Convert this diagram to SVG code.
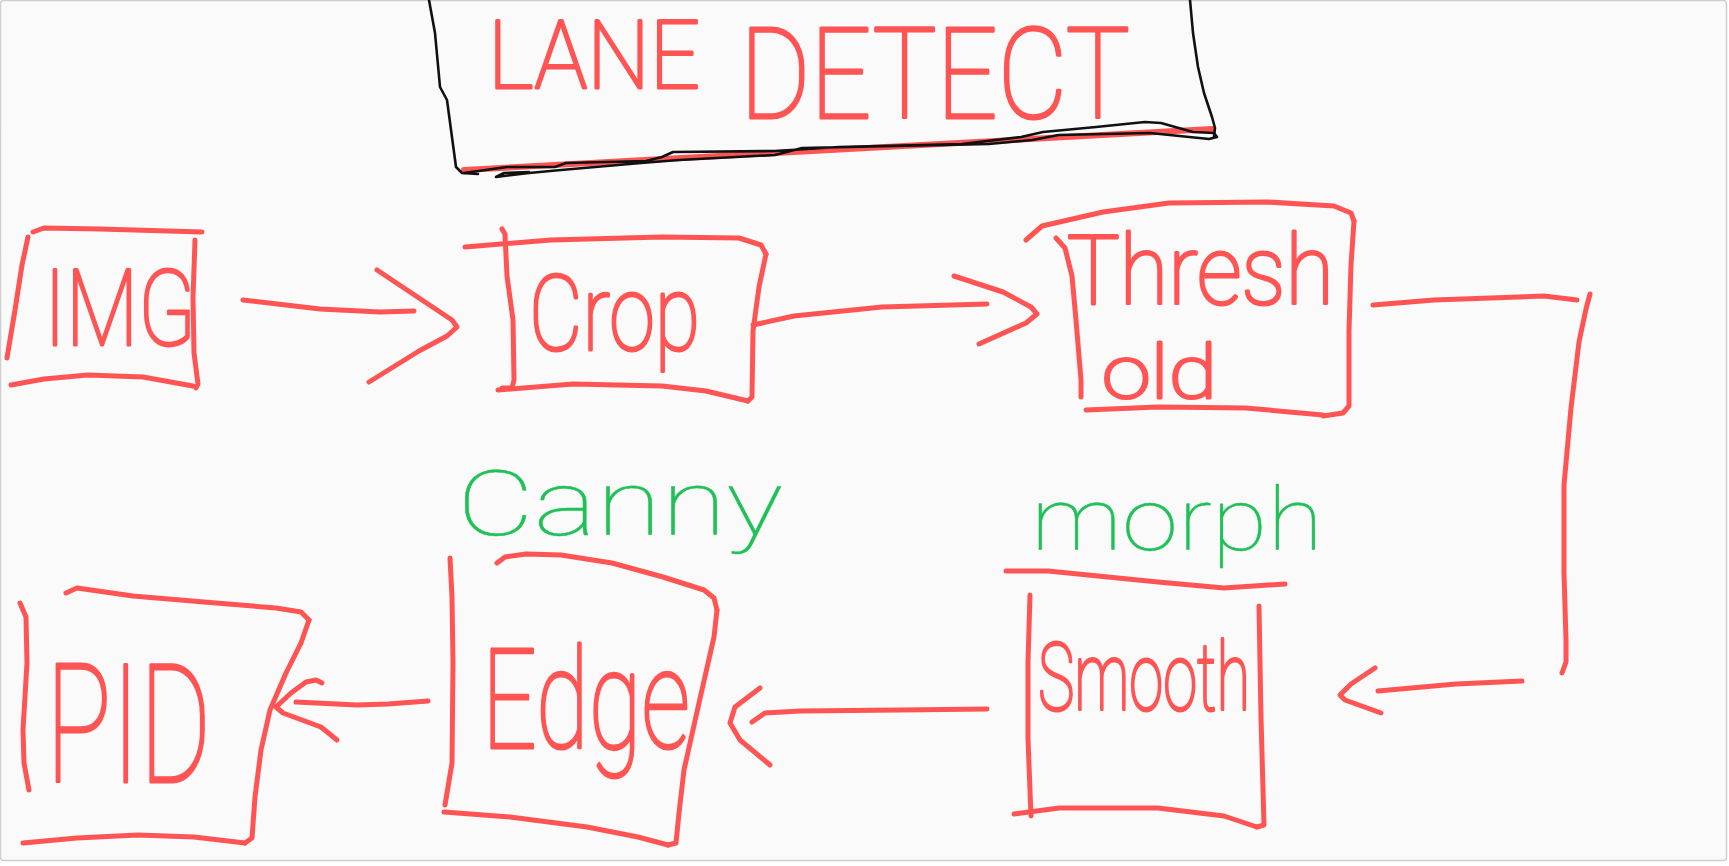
<svg xmlns="http://www.w3.org/2000/svg" width="1729" height="866" viewBox="0 0 1729 866">
  <style>
    .ink { fill: none; stroke: #ff5454; stroke-width: 5; stroke-linecap: round; stroke-linejoin: round; }
    .ink-wide { fill: none; stroke: #ff5454; stroke-width: 6; stroke-linecap: round; stroke-linejoin: round; }
    .pen { fill: none; stroke: #111111; stroke-width: 2.6; stroke-linecap: round; stroke-linejoin: round; }
    .red { font-family: Roboto, "Open Sans", "DejaVu Sans", sans-serif; font-weight: 100; fill: #ff5454; stroke: #ff5454; stroke-width: 3; stroke-linejoin: round; }
    .green { font-family: Roboto, "Open Sans", "DejaVu Sans", sans-serif; font-weight: 100; fill: #1fc157; stroke: #1fc157; stroke-width: 0.4; }
  </style>

  <!-- canvas -->
  <rect x="0" y="0" width="1729" height="866" fill="#ffffff"/>
  <rect x="0.5" y="0.5" width="1726" height="860" rx="3" fill="#fafafa" stroke="#cfcfcf" stroke-width="1.5"/>

  <!-- title block -->
  <g id="title">
    <text class="red" x="488" y="88" font-size="94" textLength="212" lengthAdjust="spacingAndGlyphs">LANE</text>
    <text class="red" x="740" y="118" font-size="126" textLength="390" lengthAdjust="spacingAndGlyphs">DETECT</text>
    <path class="ink-wide" d="M464,170 L1212,129"/>
    <path class="pen" d="M429,0 L435,33 L440,87 L447,100 L456,167 L462,173 L478,174"/>
    <path class="pen" d="M1190,0 L1193,33 L1198,67 L1204,93 L1212,117 L1215,128 L1214,137"/>
    <path class="pen" d="M464,173 L507,167 L555,167 L566,163 L646,161 L662,157 L673,152 L775,151 L839,147 L962,144 L1021,137 L1043,132 L1096,127 L1145,122 L1161,123 L1193,132 L1214,133 L1217,137 L1209,139 L1150,133 L1059,135 L1032,140 L989,144 L802,148 L775,155 L679,160 L641,163 L561,170 L529,173 L496,177 L504,173 L529,172"/>
  </g>

  <!-- input image -->
  <g id="node-img">
    <text class="red" x="44" y="345" font-size="105" textLength="152" lengthAdjust="spacingAndGlyphs">IMG</text>
    <path class="ink" d="M33,232 L44,228 L100,229 L202,232"/>
    <path class="ink" d="M28,237 L22,265 L15,310 L7,358"/>
    <path class="ink" d="M195,240 L193,298 L194,353 L198,384 L196,388"/>
    <path class="ink" d="M11,385 L44,379 L88,375 L143,377 L193,386"/>
  </g>

  <!-- crop -->
  <g id="node-crop">
    <text class="red" x="529" y="350" font-size="105" textLength="171" lengthAdjust="spacingAndGlyphs">Crop</text>
    <path class="ink" d="M465,247 L551,240 L662,237 L739,238 L761,245 L766,254"/>
    <path class="ink" d="M502,229 L505,234 L507,276 L513,320 L514,380 L512,388 L502,388"/>
    <path class="ink" d="M766,254 L759,287 L753,331 L752,397 L748,401"/>
    <path class="ink" d="M498,390 L573,384 L662,386 L706,391 L748,401"/>
  </g>

  <!-- threshold: label wraps onto two lines -->
  <g id="node-threshold">
    <text class="red" font-size="96">
      <tspan x="1067" y="304" textLength="267" lengthAdjust="spacingAndGlyphs">Thresh</tspan>
      <tspan x="1102" y="398" font-size="74" textLength="115" lengthAdjust="spacingAndGlyphs">old</tspan>
    </text>
    <path class="ink" d="M1026,240 L1042,226 L1103,212 L1169,203 L1268,202 L1334,206 L1351,213 L1354,221"/>
    <path class="ink" d="M1056,238 L1065,248 L1072,276 L1076,320 L1081,380 L1081,397"/>
    <path class="ink" d="M1354,221 L1351,265 L1349,331 L1349,406 L1343,413 L1323,416"/>
    <path class="ink" d="M1086,410 L1158,407 L1246,408 L1323,415"/>
  </g>

  <!-- smoothing -->
  <g id="node-smooth">
    <text class="green" x="1031" y="550" font-size="88" textLength="292" lengthAdjust="spacingAndGlyphs">morph</text>
    <text class="red" x="1038" y="710" font-size="95" textLength="212" lengthAdjust="spacingAndGlyphs">Smooth</text>
    <path class="ink" d="M1006,571 L1048,571 L1158,582 L1224,588 L1285,584"/>
    <path class="ink" d="M1030,595 L1028,662 L1028,739 L1031,816"/>
    <path class="ink" d="M1259,606 L1261,717 L1264,825 L1257,827"/>
    <path class="ink" d="M1014,814 L1059,808 L1158,808 L1224,816 L1257,827"/>
  </g>

  <!-- edge detection -->
  <g id="node-edge">
    <text class="green" x="457" y="535" font-size="90" textLength="326" lengthAdjust="spacingAndGlyphs">Canny</text>
    <text class="red" x="482" y="748" font-size="140" textLength="208" lengthAdjust="spacingAndGlyphs">Edge</text>
    <path class="ink" d="M497,563 L505,557 L526,554 L561,555 L612,563 L663,577 L704,590 L714,598 L717,610"/>
    <path class="ink" d="M450,558 L452,597 L453,663 L452,763 L445,805"/>
    <path class="ink" d="M717,610 L714,637 L699,703 L684,770 L679,813 L676,843 L668,845"/>
    <path class="ink" d="M444,812 L510,817 L587,827 L638,837 L668,845"/>
  </g>

  <!-- controller -->
  <g id="node-pid">
    <text class="red" x="46" y="782" font-size="165" textLength="165" lengthAdjust="spacingAndGlyphs">PID</text>
    <path class="ink" d="M66,593 L77,588 L133,596 L204,602 L276,608 L301,612 L309,620"/>
    <path class="ink" d="M20,603 L26,617 L27,663 L23,730 L24,763 L29,790"/>
    <path class="ink" d="M309,620 L301,643 L286,673 L270,710 L261,750 L255,797 L252,838 L245,843"/>
    <path class="ink" d="M23,843 L77,838 L138,835 L194,837 L245,843"/>
  </g>

  <!-- connectors -->
  <g id="connectors">
    <!-- img to crop -->
    <path class="ink" d="M243,300 L320,309 L380,312 L414,311"/>
    <path class="ink" d="M377,270 L419,298 L452,320 L457,327 L447,336 L419,351 L369,382"/>
    <!-- crop to threshold -->
    <path class="ink" d="M753,325 L794,316 L882,307 L987,304"/>
    <path class="ink" d="M954,276 L1003,292 L1031,307 L1037,314 L1026,323 L979,344"/>
    <!-- threshold round to smooth -->
    <path class="ink" d="M1373,305 L1434,300 L1544,296 L1577,300"/>
    <path class="ink" d="M1590,294 L1586,309 L1579,342 L1571,408 L1564,485 L1564,573 L1566,640 L1566,662 L1562,673"/>
    <path class="ink" d="M1522,681 L1456,684 L1378,691"/>
    <path class="ink" d="M1375,668 L1351,684 L1340,695 L1345,700 L1381,713"/>
    <!-- smooth to edge -->
    <path class="ink" d="M987,709 L900,710 L800,711 L765,713 L752,722"/>
    <path class="ink" d="M760,688 L735,707 L730,723 L740,740 L770,765"/>
    <!-- edge to pid -->
    <path class="ink" d="M296,702 L357,705 L388,704 L428,701"/>
    <path class="ink" d="M322,683 L316,680 L306,682 L291,693 L276,707 L283,713 L321,727 L337,740"/>
  </g>
</svg>
